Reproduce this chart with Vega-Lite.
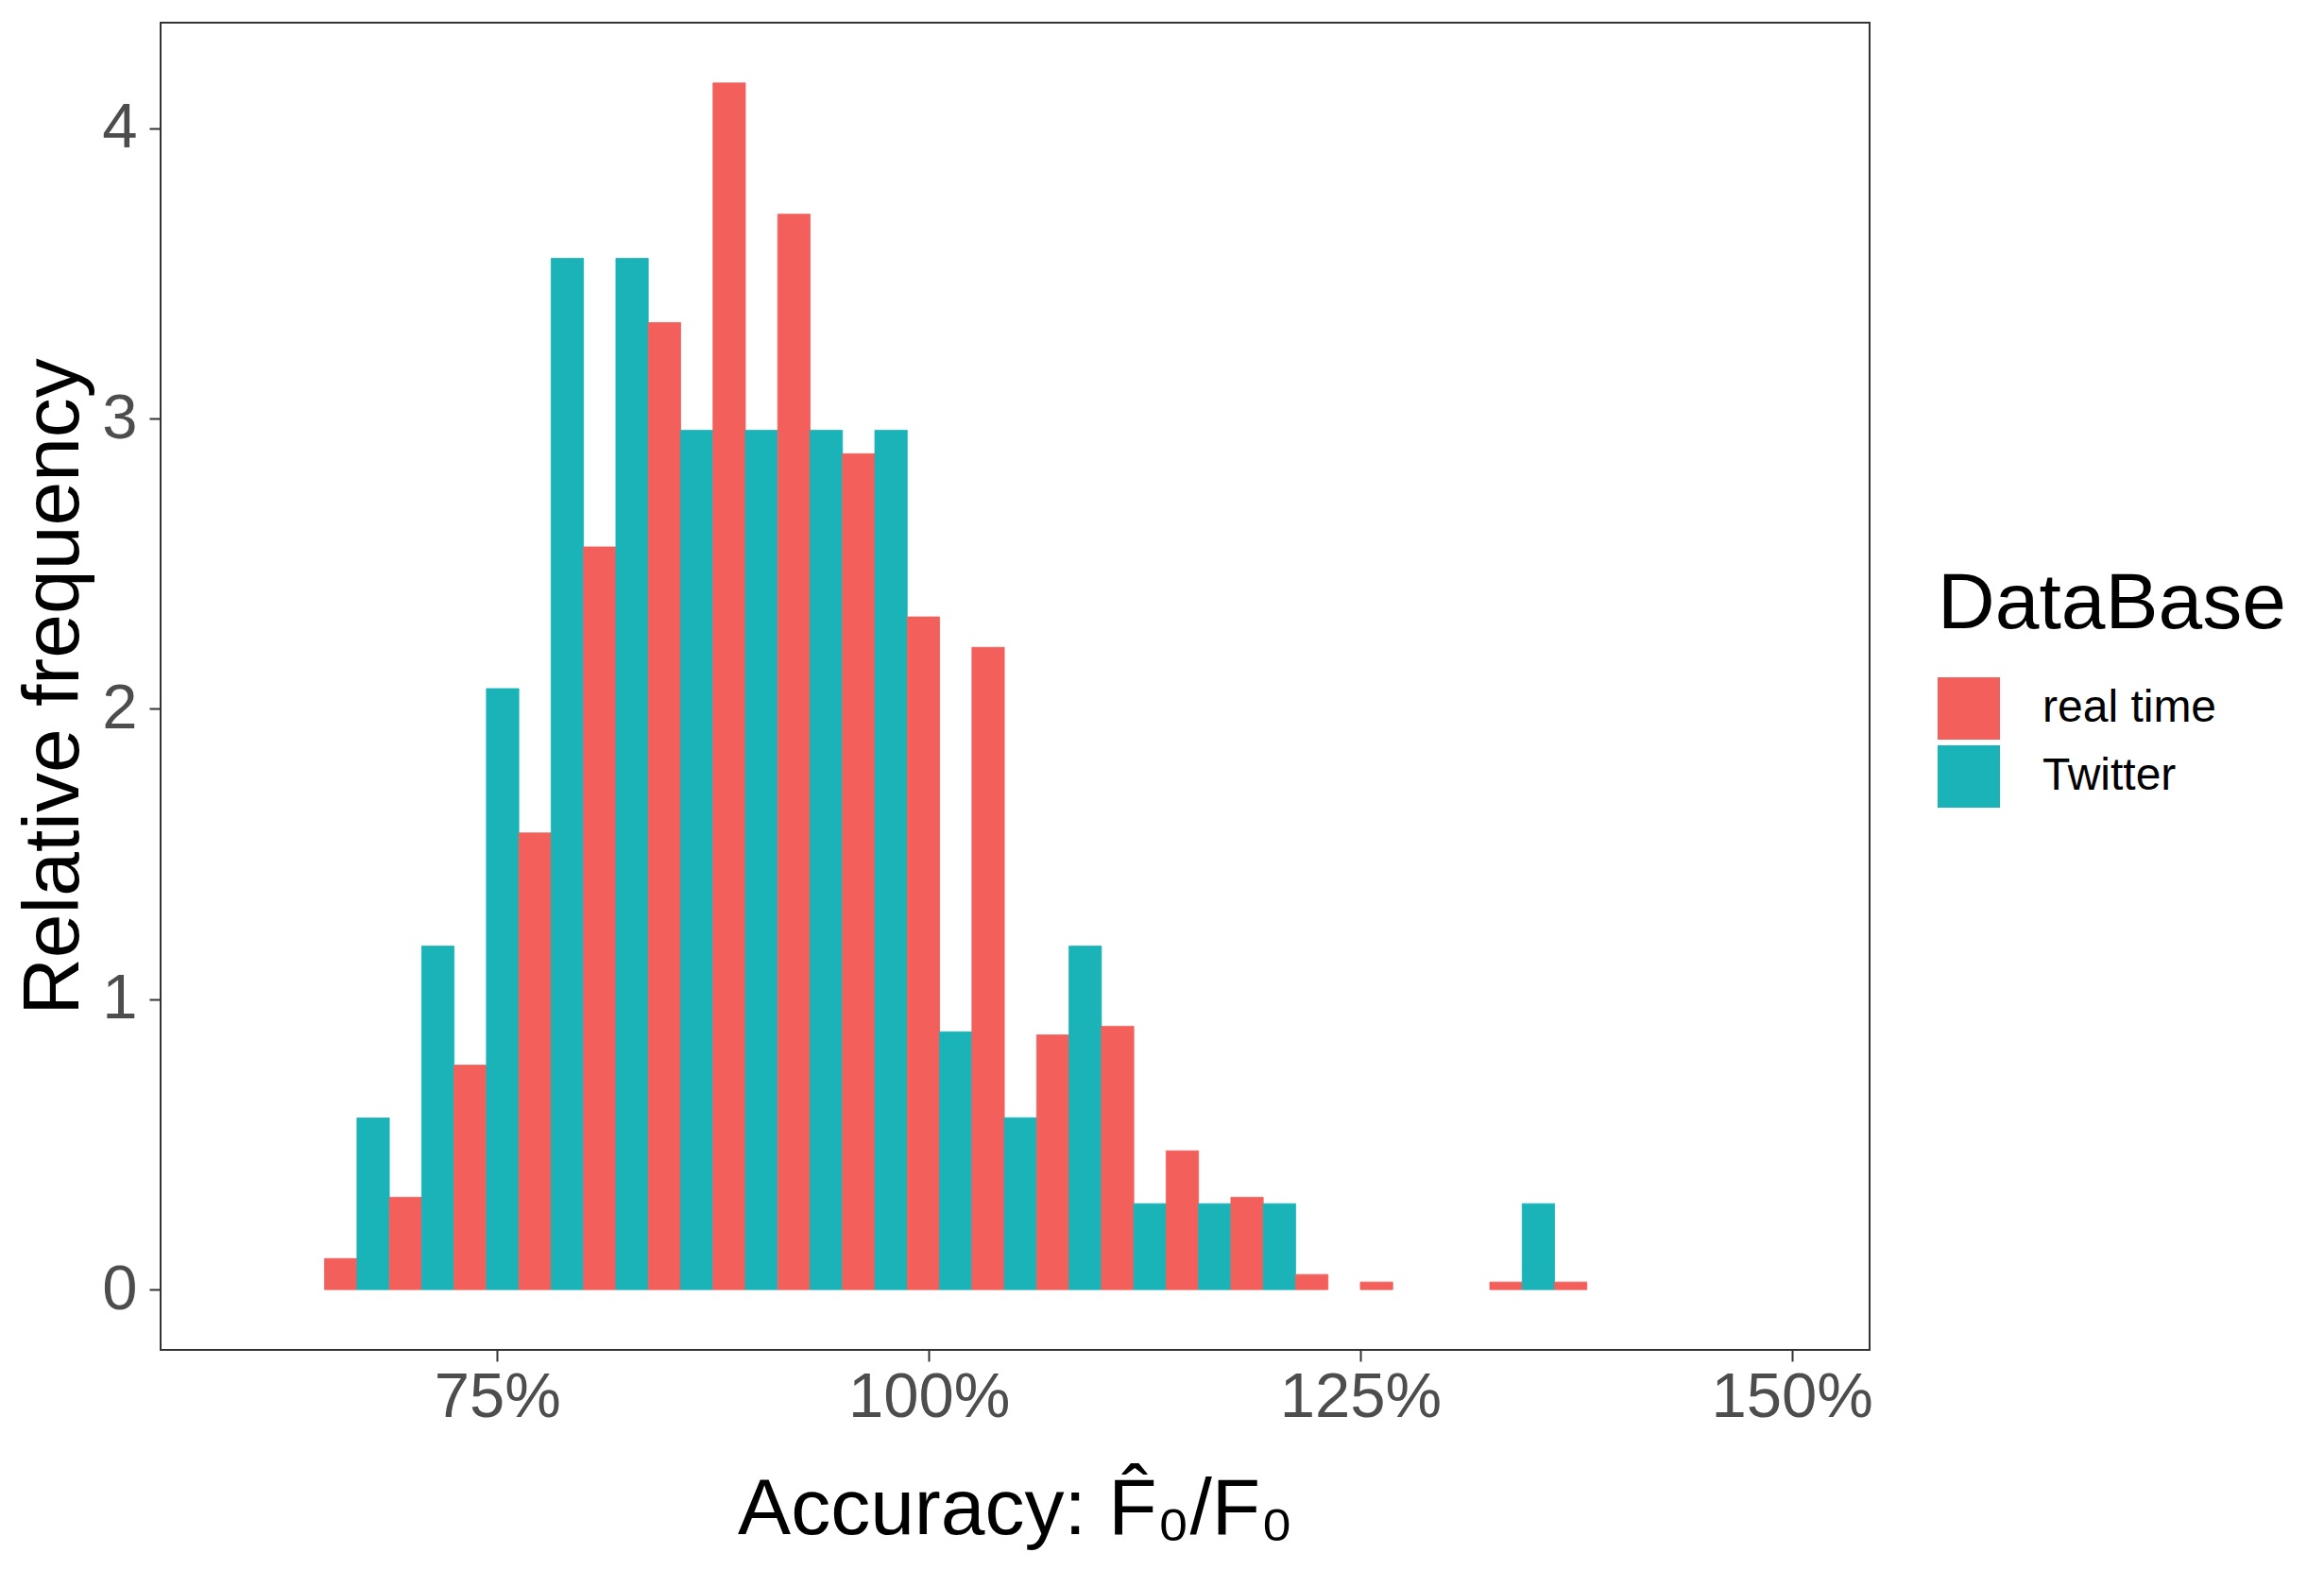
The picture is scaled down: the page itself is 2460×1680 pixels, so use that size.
{
  "$schema": "https://vega.github.io/schema/vega-lite/v6.json",
  "width": 1809,
  "height": 1405,
  "autosize": {"type": "none"},
  "padding": {"left": 170, "top": 24, "right": 481, "bottom": 251},
  "background": "white",
  "config": {
    "view": {"stroke": "#333333", "strokeWidth": 2},
    "font": "Liberation Sans"
  },
  "data": {
    "values": [
      {"DataBase": "real time", "start": 0.65, "end": 0.66875, "density": 0.107},
      {"DataBase": "Twitter", "start": 0.66875, "end": 0.6875, "density": 0.591},
      {"DataBase": "real time", "start": 0.6875, "end": 0.70625, "density": 0.318},
      {"DataBase": "Twitter", "start": 0.70625, "end": 0.725, "density": 1.183},
      {"DataBase": "real time", "start": 0.725, "end": 0.74375, "density": 0.773},
      {"DataBase": "Twitter", "start": 0.74375, "end": 0.7625, "density": 2.07},
      {"DataBase": "real time", "start": 0.7625, "end": 0.78125, "density": 1.573},
      {"DataBase": "Twitter", "start": 0.78125, "end": 0.8, "density": 3.552},
      {"DataBase": "real time", "start": 0.8, "end": 0.81875, "density": 2.558},
      {"DataBase": "Twitter", "start": 0.81875, "end": 0.8375, "density": 3.552},
      {"DataBase": "real time", "start": 0.8375, "end": 0.85625, "density": 3.331},
      {"DataBase": "Twitter", "start": 0.85625, "end": 0.875, "density": 2.96},
      {"DataBase": "real time", "start": 0.875, "end": 0.89375, "density": 4.156},
      {"DataBase": "Twitter", "start": 0.89375, "end": 0.9125, "density": 2.96},
      {"DataBase": "real time", "start": 0.9125, "end": 0.93125, "density": 3.704},
      {"DataBase": "Twitter", "start": 0.93125, "end": 0.95, "density": 2.96},
      {"DataBase": "real time", "start": 0.95, "end": 0.96875, "density": 2.879},
      {"DataBase": "Twitter", "start": 0.96875, "end": 0.9875, "density": 2.96},
      {"DataBase": "real time", "start": 0.9875, "end": 1.00625, "density": 2.317},
      {"DataBase": "Twitter", "start": 1.00625, "end": 1.025, "density": 0.888},
      {"DataBase": "real time", "start": 1.025, "end": 1.04375, "density": 2.212},
      {"DataBase": "Twitter", "start": 1.04375, "end": 1.0625, "density": 0.592},
      {"DataBase": "real time", "start": 1.0625, "end": 1.08125, "density": 0.877},
      {"DataBase": "Twitter", "start": 1.08125, "end": 1.1, "density": 1.183},
      {"DataBase": "real time", "start": 1.1, "end": 1.11875, "density": 0.907},
      {"DataBase": "Twitter", "start": 1.11875, "end": 1.1375, "density": 0.296},
      {"DataBase": "real time", "start": 1.1375, "end": 1.15625, "density": 0.478},
      {"DataBase": "Twitter", "start": 1.15625, "end": 1.175, "density": 0.296},
      {"DataBase": "real time", "start": 1.175, "end": 1.19375, "density": 0.318},
      {"DataBase": "Twitter", "start": 1.19375, "end": 1.2125, "density": 0.296},
      {"DataBase": "real time", "start": 1.2125, "end": 1.23125, "density": 0.052},
      {"DataBase": "real time", "start": 1.25, "end": 1.26875, "density": 0.026},
      {"DataBase": "real time", "start": 1.325, "end": 1.34375, "density": 0.026},
      {"DataBase": "Twitter", "start": 1.34375, "end": 1.3625, "density": 0.296},
      {"DataBase": "real time", "start": 1.3625, "end": 1.38125, "density": 0.026}
    ]
  },
  "mark": {"type": "bar", "strokeWidth": 0.8},
  "encoding": {
    "x": {
      "field": "start",
      "type": "quantitative",
      "scale": {"domain": [0.555, 1.545], "nice": false, "zero": false},
      "axis": {
        "title": "Accuracy:  F̂₀/F₀",
        "values": [0.75, 1, 1.25, 1.5],
        "format": ".0%",
        "grid": false,
        "domain": false,
        "tickColor": "#333333",
        "tickWidth": 2,
        "tickSize": 12,
        "labelFontSize": 67,
        "labelColor": "#4D4D4D",
        "labelPadding": 5,
        "labelFont": "Liberation Sans",
        "titleFont": "Liberation Sans",
        "titleFontSize": 84,
        "titleFontWeight": "normal",
        "titleColor": "black",
        "titleY": 194,
        "titleBaseline": "alphabetic"
      }
    },
    "x2": {"field": "end"},
    "y": {
      "field": "density",
      "type": "quantitative",
      "scale": {"domain": [-0.2078, 4.3638], "nice": false, "zero": false},
      "axis": {
        "title": "Relative frequency",
        "values": [0, 1, 2, 3, 4],
        "grid": false,
        "domain": false,
        "tickColor": "#333333",
        "tickWidth": 2,
        "tickSize": 12,
        "labelFontSize": 67,
        "labelColor": "#4D4D4D",
        "labelPadding": 13,
        "labelFont": "Liberation Sans",
        "titleFont": "Liberation Sans",
        "titleFontSize": 84,
        "titleFontWeight": "normal",
        "titleColor": "black",
        "titleX": -88,
        "titleBaseline": "alphabetic"
      }
    },
    "y2": {"datum": 0},
    "stroke": {
      "field": "DataBase",
      "type": "nominal",
      "scale": {"domain": ["real time", "Twitter"], "range": ["#F35F5B", "#19B3B8"]},
      "legend": null
    },
    "fill": {
      "field": "DataBase",
      "type": "nominal",
      "scale": {"domain": ["real time", "Twitter"], "range": ["#F35F5B", "#19B3B8"]},
      "legend": {
        "orient": "none",
        "legendX": 1881,
        "legendY": 575,
        "title": "DataBase",
        "titleFont": "Liberation Sans",
        "titleFontSize": 84,
        "titleFontWeight": "normal",
        "titleColor": "black",
        "titlePadding": 34,
        "titleLimit": 1000,
        "symbolType": "square",
        "symbolSize": 4356,
        "symbolStrokeWidth": 0,
        "symbolOpacity": 1,
        "labelFont": "Liberation Sans",
        "labelFontSize": 48,
        "labelColor": "black",
        "labelOffset": 45,
        "labelLimit": 1000,
        "rowPadding": 6,
        "padding": 0
      }
    }
  }
}
